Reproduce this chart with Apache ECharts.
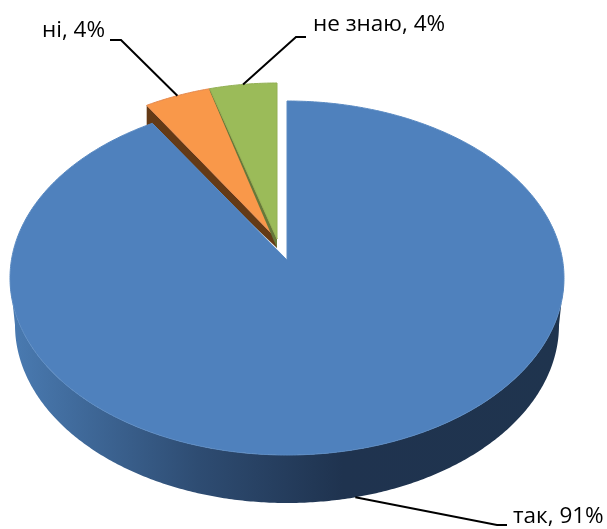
<!DOCTYPE html>
<html>
<head>
<meta charset="utf-8">
<style>
    html, body { margin: 0; padding: 0; background: #fff; }
    #chart { width: 607px; height: 529px; }
</style>
</head>
<body>
<div id="chart"></div>
<script src="https://cdn.jsdelivr.net/npm/echarts@6/dist/echarts.min.js"></script>
<script>
    // дані діаграми
    var categories = ['так', 'ні', 'не знаю'];
    var values = [91, 4, 4];
    var labels = ['так, 91%', 'ні, 4%', 'не знаю, 4%'];

    var total = values.reduce(function (a, b) { return a + b; }, 0);

    // геометрія псевдо-3D: верхній та нижній еліпси, вершина зміщена вгору (перспектива)
    var pie = { cx: 287, cy: 278, rx: 277, ry: 177, apexY: 260 };
    var floor = { cx: 287, cy: 325, rx: 272, ry: 178 };
    var exploded = { cx: 277, cy: 260, rx: 268, ry: 177, apexY: 239 };

    var sliceStyle = [
        { fill: '#4f81bd', stroke: '#5a8ac2' },
        { fill: '#f9984a', stroke: '#e58a50', wall: '#643a16', drop: 20, apexDrop: 9, z: 1 },
        { fill: '#9bbb59', stroke: '#93b055', wall: '#66783a', drop: 2, apexDrop: 9, z: 3 }
    ];
    var labelLayout = [
        { x: 513, y: 517, elbow: [[497, 525], [507, 525]], useFloor: true },
        { x: 42, y: 31, elbow: [[121, 40], [110, 40]] },
        { x: 313, y: 25, elbow: [[296, 37], [306, 37]] }
    ];

    function toAngle(v) {
        return echarts.number.linearMap(v, [0, total], [0, 2 * Math.PI]);
    }
    function rimPoint(e, a) {
        return [e.cx + e.rx * Math.sin(a), e.cy - e.ry * Math.cos(a)];
    }
    function arc(e, a0, a1) {
        var pts = [];
        var n = Math.max(2, Math.ceil(Math.abs(a1 - a0) / 0.01));
        for (var i = 0; i <= n; i++) {
            pts.push(rimPoint(e, a0 + (a1 - a0) * i / n));
        }
        return pts;
    }

    function renderSlice(params, api) {
        var i = params.dataIndex;
        var before = 0;
        for (var k = 0; k < i; k++) before += values[k];
        var a0 = toAngle(before);
        var a1 = toAngle(before + api.value(0));
        var mid = (a0 + a1) / 2;
        var st = sliceStyle[i];
        var e = i === 0 ? pie : exploded;
        var apex = [e.cx, e.apexY];
        var kids = [];

        if (i === 0) {
            // бічна стінка основного сектора (видима лише нижня половина)
            var wa0 = Math.PI / 2, wa1 = Math.PI * 1.5;
            var wall = arc(pie, wa0, wa1).concat(arc(floor, wa1, wa0));
            kids.push({
                type: 'polygon',
                z2: 5,
                shape: { points: wall },
                style: {
                    fill: new echarts.graphic.LinearGradient(0, 0, 1, 0, [
                        { offset: 0, color: '#4a7bb2' },
                        { offset: 0.34, color: '#2e4c72' },
                        { offset: 0.6, color: '#1f334f' },
                        { offset: 1, color: '#1f344e' }
                    ])
                }
            });
        } else {
            // внутрішня стінка винесеного сектора, вздовж його лівого краю
            var edge = rimPoint(e, a0);
            kids.push({
                type: 'polygon',
                z2: st.z,
                shape: {
                    points: [edge, apex, [apex[0], apex[1] + st.apexDrop], [edge[0], edge[1] + st.drop]]
                },
                style: { fill: st.wall }
            });
        }

        var top = [apex].concat(arc(e, a0, a1));
        kids.push({
            type: 'polygon',
            z2: i === 0 ? 6 : st.z + 1,
            shape: { points: top },
            style: { fill: st.fill, stroke: st.stroke, lineWidth: 1 }
        });

        // лінія-виноска і підпис
        var lay = labelLayout[i];
        var anchor = rimPoint(lay.useFloor ? floor : e, mid);
        kids.push({
            type: 'polyline',
            z2: 8,
            shape: { points: [anchor].concat(lay.elbow) },
            style: { stroke: '#000', lineWidth: 2, fill: null }
        });
        kids.push({
            type: 'text',
            z2: 9,
            x: lay.x,
            y: lay.y,
            style: {
                text: labels[i],
                fill: '#000',
                font: '22.5px "Open Sans"',
                align: 'left',
                verticalAlign: 'middle'
            }
        });
        return { type: 'group', children: kids };
    }

    var myChart = echarts.init(document.getElementById('chart'));
    myChart.setOption({
        animation: false,
        series: [{
            type: 'custom',
            coordinateSystem: 'none',
            renderItem: renderSlice,
            data: categories.map(function (c, i) {
                return { name: c, value: [values[i]] };
            })
        }]
    });
</script>
</body>
</html>
